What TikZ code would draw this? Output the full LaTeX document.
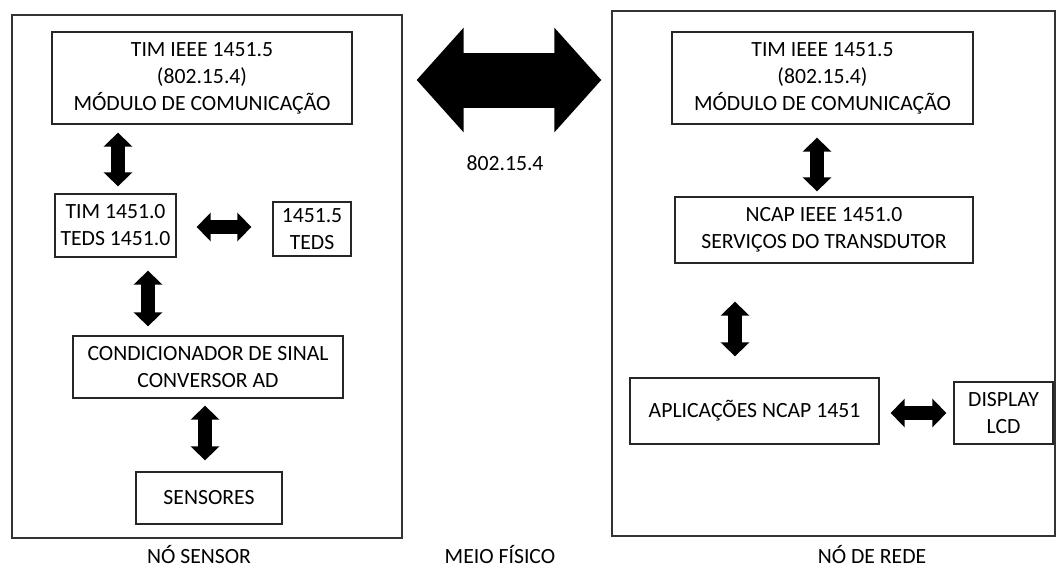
\documentclass[tikz,border=0pt]{standalone}
\usepackage{fontspec}
\setmainfont{Carlito}
\usetikzlibrary{arrows.meta}
\begin{document}
\begin{tikzpicture}[x=1pt,y=-1pt,
  every node/.style={font=\fontsize{21.7}{27}\selectfont, align=center, inner sep=0pt},
  box/.style={draw=black!85, line width=1.3pt},
  outer/.style={draw=black!80, line width=1.3pt},
  dbl/.style={line width=14pt, {Triangle[length=14pt,width=28pt]}-{Triangle[length=14pt,width=28pt]}},
  big/.style={line width=55pt, {Triangle[length=47pt,width=102pt]}-{Triangle[length=47pt,width=102pt]}},
  lbl/.style={}]
\useasboundingbox (0,0) rectangle (1058,568);
% outer boxes
\node[outer, minimum width=390pt, minimum height=523pt] (left) at (207,276.5) {};
\node[outer, minimum width=443pt, minimum height=525pt] (right) at (833.5,273.5) {};
% left boxes
\node[box, minimum width=300pt, minimum height=92pt] (ltim) at (202,78) {TIM IEEE 1451.5\\(802.15.4)\\MÓDULO DE COMUNICAÇÃO};
\node[box, minimum width=121pt, minimum height=63pt] (lteds0) at (115.5,225.5) {TIM 1451.0\\TEDS 1451.0};
\node[box, minimum width=78pt, minimum height=54pt] (lteds5) at (312,229) {1451.5\\TEDS};
\node[box, minimum width=270pt, minimum height=62pt] (lcond) at (208,367) {CONDICIONADOR DE SINAL\\CONVERSOR AD};
\node[box, minimum width=146pt, minimum height=52pt] (lsens) at (209,498) {SENSORES};
% right boxes
\node[box, minimum width=301pt, minimum height=92pt] (rtim) at (822.5,78) {TIM IEEE 1451.5\\(802.15.4)\\MÓDULO DE COMUNICAÇÃO};
\node[box, minimum width=298pt, minimum height=66pt] (rncap) at (824,230) {NCAP IEEE 1451.0\\SERVIÇOS DO TRANSDUTOR};
\node[box, minimum width=249pt, minimum height=66pt] (rapp) at (754.5,411) {APLICAÇÕES NCAP 1451};
\node[box, minimum width=99pt, minimum height=62pt] (rlcd) at (1003.5,413) {DISPLAY\\LCD};
% labels
\node[lbl] (l802) at (505,163) {802.15.4};
\node[lbl] (lns) at (199,555) {NÓ SENSOR};
\node[lbl] (lmf) at (500,555) {MEIO FÍSICO};
\node[lbl] (lnr) at (872,555) {NÓ DE REDE};
% connectors
\draw[big, shorten <=14pt, shorten >=10pt] ([yshift=196.5pt]left.east) -- ([yshift=193.5pt]right.west);
\draw[dbl, shorten <=8pt, shorten >=7pt] ([xshift=2.5pt]ltim.south -| lteds0.center) -- ([xshift=2.5pt]lteds0.north);
\draw[dbl, shorten <=13pt, shorten >=9pt] ([xshift=32.5pt]lteds0.south) -- ([xshift=32.5pt]lteds0.south |- lcond.north);
\draw[dbl, shorten <=7pt, shorten >=11pt] ([xshift=-3pt]lcond.south) -- ([xshift=-3pt]lcond.south |- lsens.north);
\draw[dbl, shorten <=20pt, shorten >=21pt] ([yshift=-1.5pt]lteds0.east) -- ([yshift=-1.5pt]lteds0.east -| lteds5.west);
\draw[dbl, shorten <=13pt, shorten >=5pt] ([xshift=-5.5pt]rtim.south) -- ([xshift=-5.5pt]rtim.south |- rncap.north);
\draw[dbl, shorten <=38pt, shorten >=21pt] ([xshift=-19.5pt]rapp.north |- rncap.south) -- ([xshift=-19.5pt]rapp.north);
\draw[dbl, shorten <=11pt, shorten >=7pt] ([yshift=-2pt]rapp.east) -- ([yshift=-2pt]rapp.east -| rlcd.west);
\end{tikzpicture}
\end{document}
